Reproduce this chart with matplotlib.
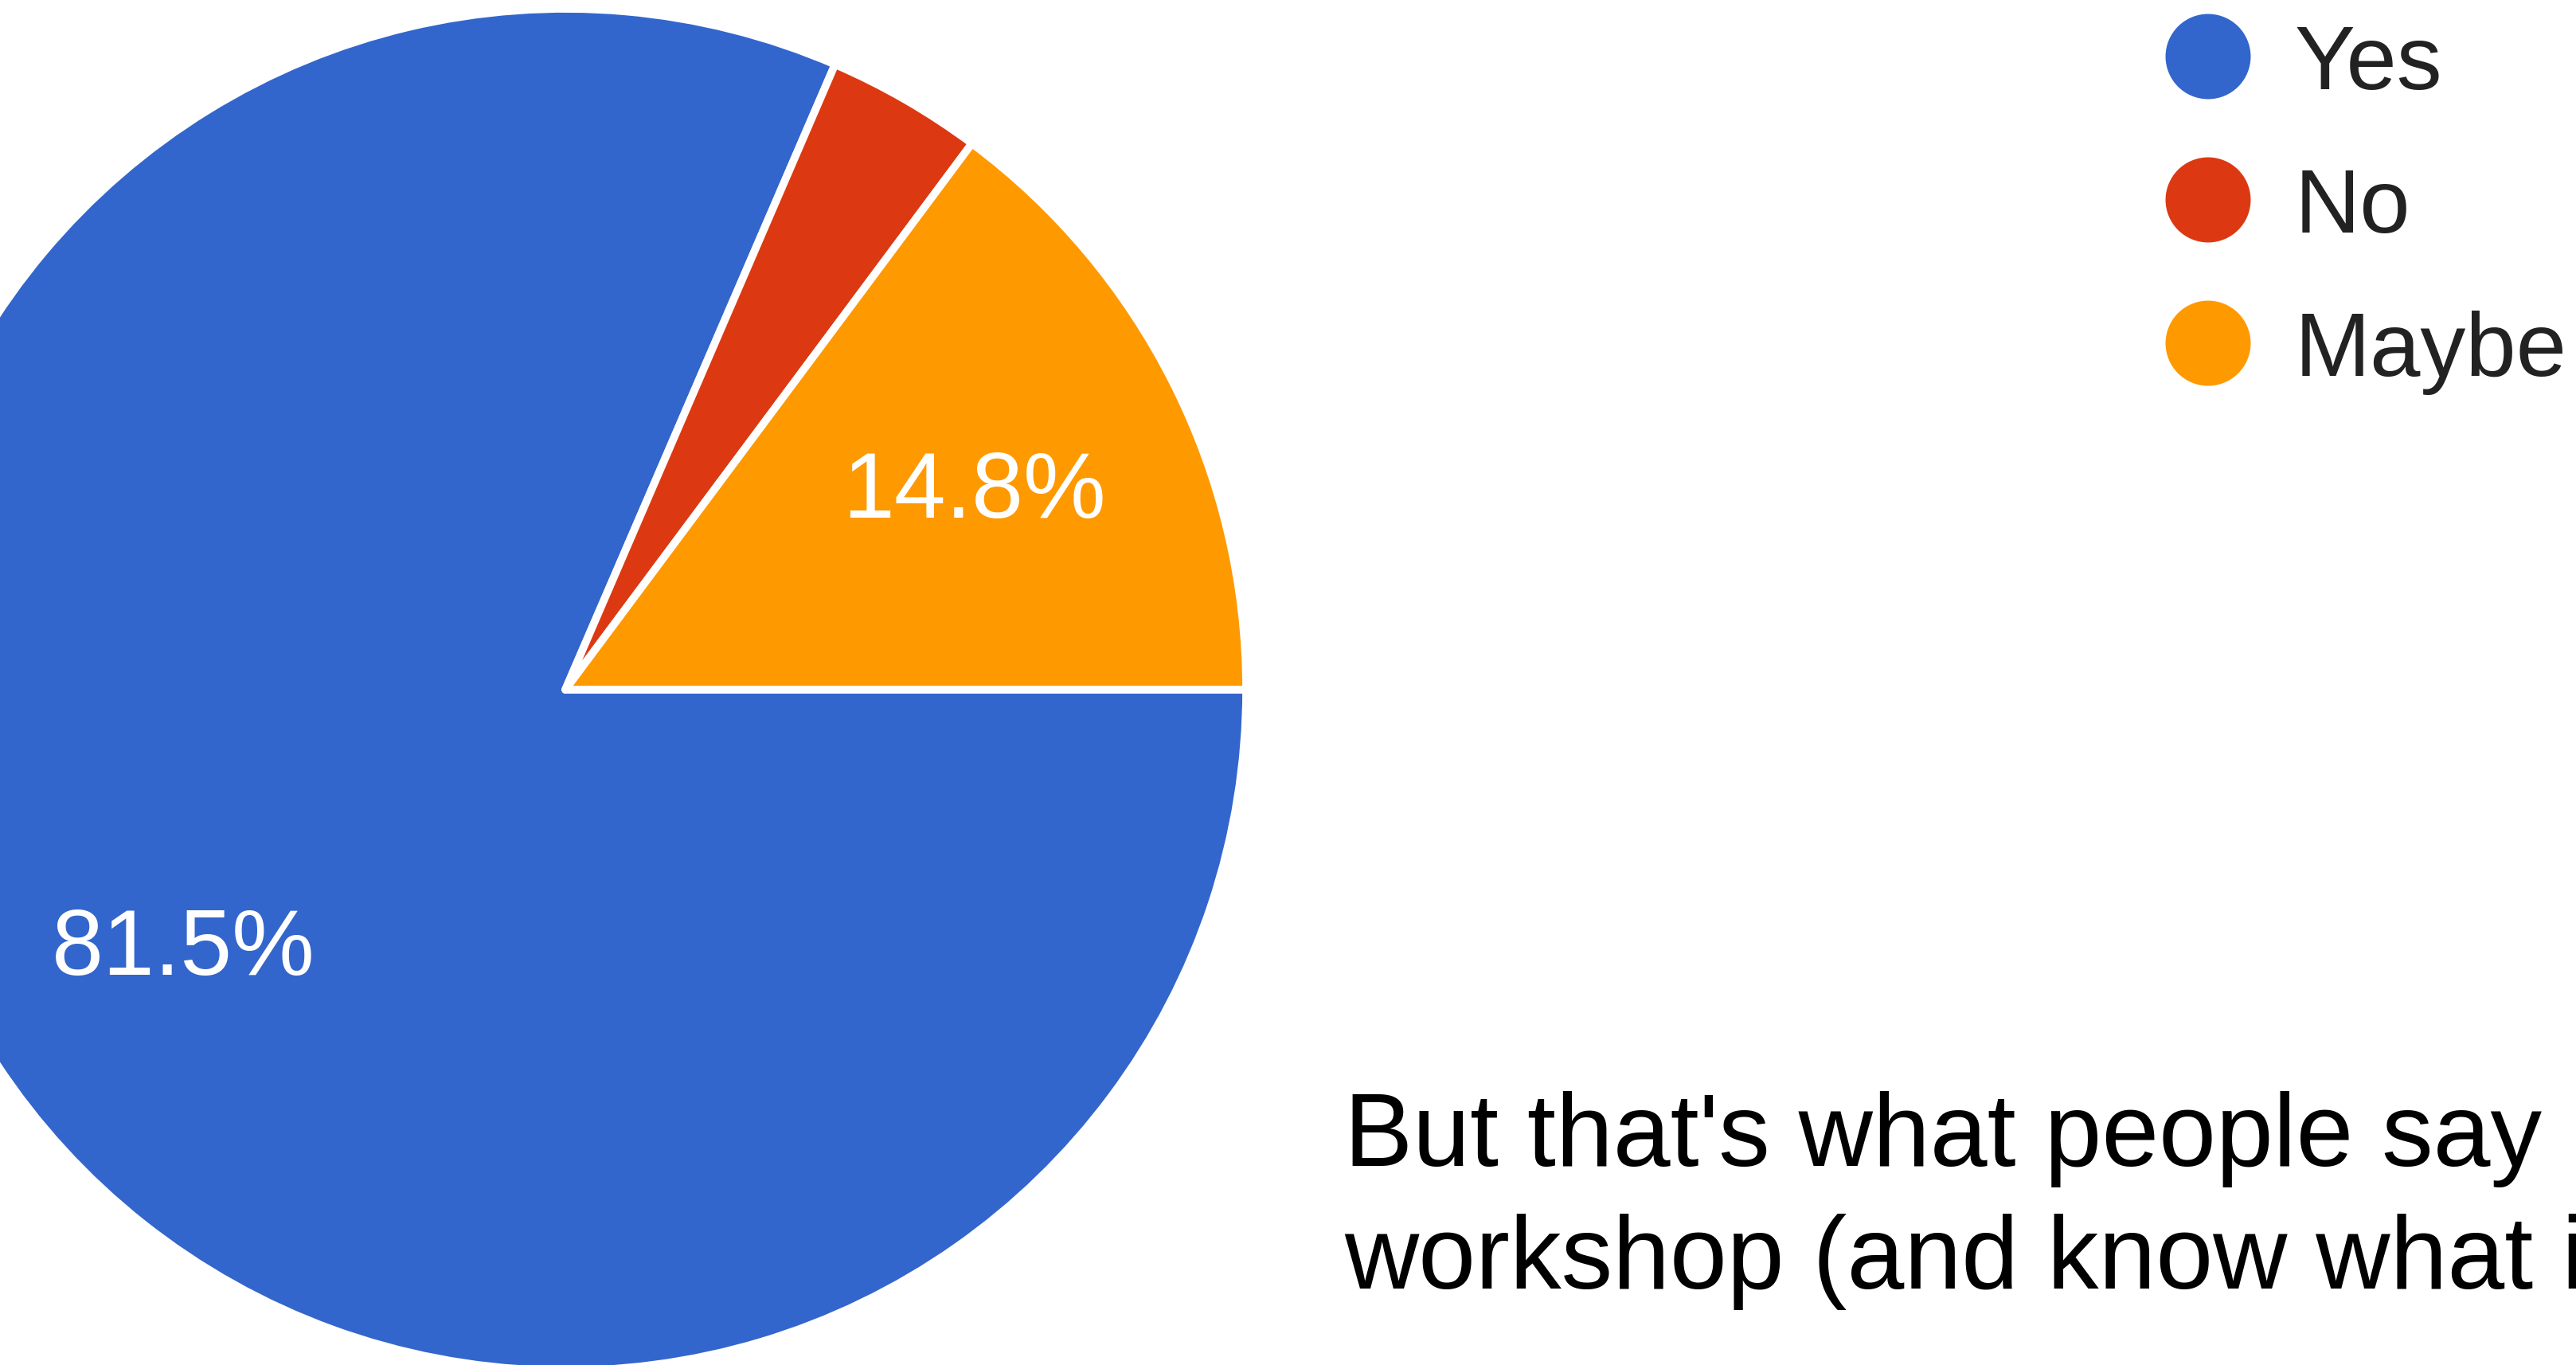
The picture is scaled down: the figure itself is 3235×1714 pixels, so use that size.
import matplotlib
matplotlib.use("Agg")
import matplotlib.pyplot as plt

# ---- data ----
categories = ["Yes", "No", "Maybe"]
counts = [22, 1, 4]
colors = ["#3366CC", "#DC3912", "#FF9900"]
note_lines = ["But that's what people say", "workshop (and know what i"]

W, H = 3235, 1715
fig = plt.figure(figsize=(W / 100, H / 100), dpi=100)
ax = fig.add_axes([0, 0, 1, 1])

FONT = ["Liberation Sans", "DejaVu Sans"]

def fmt(p):
    return f"{p:.1f}%" if p > 5 else ""

center = (710, H - 867)
radius = 855
wedges, texts, autotexts = ax.pie(
    counts, colors=colors, startangle=0, counterclock=False,
    center=center, radius=radius, autopct=fmt, pctdistance=0.672,
    wedgeprops=dict(edgecolor="white", linewidth=7, joinstyle="round"),
    textprops=dict(color="white", fontsize=84, family=FONT),
)
for t in autotexts:
    x, y = t.get_position()
    t.set_position((x, y - 41))
    t.set_va("baseline")

ax.set_xlim(0, W)
ax.set_ylim(0, H)
ax.set_aspect("equal")
ax.axis("off")

# legend
for i, (cat, col) in enumerate(zip(categories, colors)):
    cy = H - (72 + 180 * i)
    ax.scatter([2773], [cy], s=77 ** 2, color=col, edgecolors="none", zorder=5)
    ax.text(2882, H - (112 + 180 * i), cat, fontsize=82, color="#222222",
            va="baseline", ha="left", family=FONT)

# note text (cut off at the right edge, as in the original)
ax.text(1688, H - 1464, note_lines[0], fontsize=93, color="black",
        va="baseline", ha="left", family=FONT)
ax.text(1688, H - 1618, note_lines[1], fontsize=93, color="black",
        va="baseline", ha="left", family=FONT)

fig.savefig("out.png", dpi=100, facecolor="white")
